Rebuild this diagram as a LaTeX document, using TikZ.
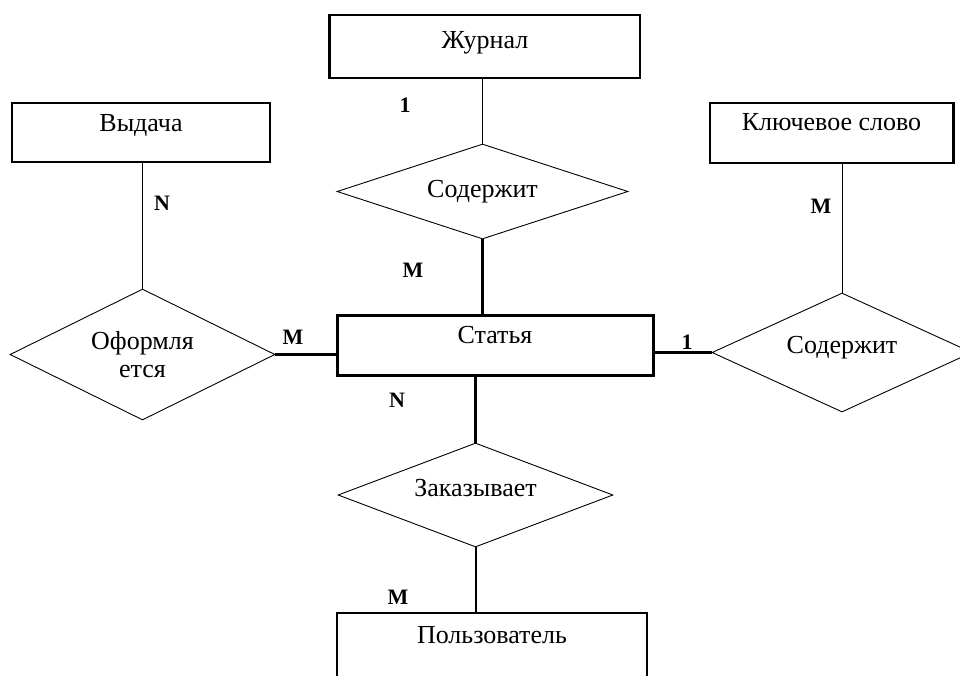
\documentclass[tikz,border=0pt]{standalone}
\usepackage{fontspec}
\setmainfont{Liberation Serif}
\usetikzlibrary{shapes.geometric}
\begin{document}
\begin{tikzpicture}[x=1pt,y=-1pt,
  every node/.style={font=\fontsize{26}{28}\selectfont},
  ent/.style={draw, rectangle, inner sep=0pt, line width=1.6pt},
  rel/.style={draw, diamond, aspect=3, inner sep=0pt, line width=0.9pt},
  thin/.style={line width=0.9pt},
  thick2/.style={line width=2.6pt},
  card/.style={inner sep=0pt, font=\fontsize{22}{24}\selectfont\bfseries}]
\useasboundingbox[fill=white] (0,0) rectangle (960,675);
% entities
\node[ent, minimum width=310pt, text height=33pt, text depth=30pt] (zh) at (485,46.5) {Журнал};
\draw[line width=3pt] (zh.north west) -- (zh.south west);
\node[ent, line width=1.2pt, minimum width=258pt, text height=28pt, text depth=31pt] (vy) at (141,132.5) {Выдача};
\node[ent, minimum width=243pt, text height=27pt, text depth=33pt] (kl) at (831.5,133) {Ключевое слово};
\draw[line width=3pt] (kl.north east) -- (kl.south east);
\node[ent, line width=3pt, minimum width=316pt, text height=28pt, text depth=32pt] (st) at (495,345) {Статья};
\node[ent, line width=2pt, minimum width=310pt, text height=30pt, text depth=47pt] (po) at (492,651.5) {Пользователь};
% relationships
\node[rel, minimum width=291pt, minimum height=95pt, text depth=6pt] (s1) at (482.5,191.5) {Содержит};
\node[rel, minimum width=265pt, minimum height=131pt, align=center] (of) at (142.5,354.5) {Оформля\\ется};
\node[rel, minimum width=275pt, minimum height=104pt, text depth=14pt] (za) at (475.5,495) {Заказывает};
\node[rel, minimum width=260pt, minimum height=119pt, text depth=16pt] (s2) at (842,352.5) {Содержит};
% connectors
\draw[thin] (s1.north |- zh.south) -- (s1.north);
\draw[thick2] (s1.south) -- (s1.south |- st.north);
\draw[thick2] (za.north |- st.south) -- (za.north);
\draw[line width=2pt] (za.south) -- (za.south |- po.north);
\draw[thin] (of.north |- vy.south) -- (of.north);
\draw[line width=3pt] (of.east) -- (of.east -| st.west);
\draw[thin] (s2.north |- kl.south) -- (s2.north);
\draw[line width=3pt] (s2.west -| st.east) -- (s2.west);
% cardinalities
\node[card] (c1) at (405,105) {1};
\node[card] (c2) at (413,270) {M};
\node[card] (c3) at (162,203) {N};
\node[card] (c4) at (293,337) {M};
\node[card] (c5) at (821,206) {M};
\node[card] (c6) at (687,342) {1};
\node[card] (c7) at (397,400) {N};
\node[card] (c8) at (398,597) {M};
\end{tikzpicture}
\end{document}
